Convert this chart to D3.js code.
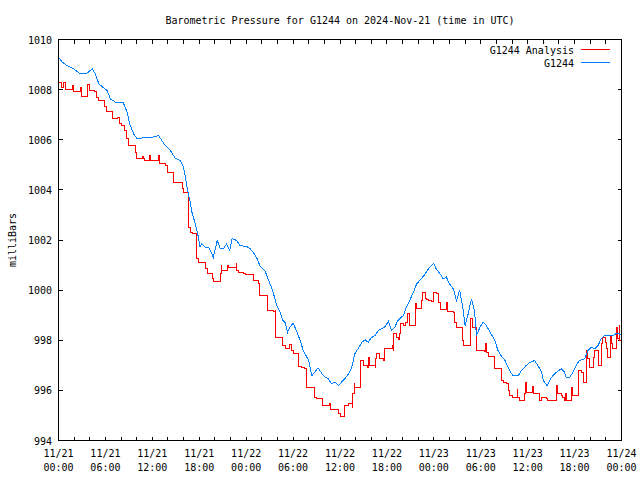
<!DOCTYPE html>
<html><head><meta charset="utf-8">
<script src="https://cdn.jsdelivr.net/npm/d3@7"></script>
<style>
html,body{margin:0;padding:0;background:#fff;}
svg{display:block;}
text{font-family:"DejaVu Sans Mono","Liberation Mono",monospace;font-size:10px;fill:#000;}
</style></head>
<body>
<script>
const title = "Barometric Pressure for G1244 on 2024-Nov-21 (time in UTC)";
const yLabel = "milliBars";
const seriesNames = ["G1244 Analysis", "G1244"];
const seriesColors = ["#ff0000", "#0080ff"];
const yTicks = [994, 996, 998, 1000, 1002, 1004, 1006, 1008, 1010];
const startTime = Date.UTC(2024, 10, 21, 0, 0);
const endTime = Date.UTC(2024, 10, 24, 0, 0);

// G1244 observations (hours since 11/21 00:00 UTC, mb)
const obsHours = [0,0.47,1.1,1.95,2.8,3.66,4.3,4.72,5.15,5.78,6.2,6.64,7.28,8.26,8.77,9.1,9.6,10.05,10.9,11.74,12.8,13.2,13.66,14.3,14.94,15.6,16.0,16.3,16.6,16.8,17.1,17.3,17.6,17.9,18.1,18.3,18.8,19.2,19.6,19.8,20.3,20.7,21.1,21.5,21.9,22.2,22.8,23.2,24.1,24.5,24.9,25.4,25.8,26.4,26.8,27.3,27.7,27.9,28.3,28.7,29.0,29.3,29.6,30.0,30.4,30.9,31.3,32.0,32.4,32.8,33.2,33.7,34.1,34.5,34.9,35.4,35.8,36.2,36.6,37.1,37.5,37.9,38.3,38.8,39.2,39.6,40.0,40.5,40.9,41.3,41.7,42.2,42.6,43.0,43.4,44.1,44.5,45.0,45.4,45.8,46.4,46.9,47.3,47.7,48.0,48.3,48.8,49.2,49.6,50.0,50.5,50.9,51.3,51.7,52.0,52.4,52.8,53.2,53.45,53.9,54.3,54.7,55.2,55.8,56.2,56.6,57.1,57.7,58.1,58.8,59.2,59.8,60.3,60.9,61.3,61.8,62.0,62.5,62.8,63.2,63.7,64.3,64.7,64.9,65.4,65.8,66.2,66.6,67.3,67.7,68.1,68.6,69.0,69.4,69.8,70.5,70.9,71.3,71.7,72.0];
const obsValues = [1009.3,1009.1,1008.96,1008.83,1008.63,1008.66,1008.83,1008.63,1008.23,1008.07,1007.97,1007.63,1007.5,1007.5,1007.1,1006.63,1006.24,1006.04,1006.08,1006.08,1006.17,1005.97,1005.77,1005.57,1005.26,1005.17,1004.9,1004.37,1003.84,1003.58,1003.05,1002.85,1002.5,1002.1,1001.71,1001.85,1001.71,1001.71,1001.45,1001.31,1001.98,1001.65,1001.65,1001.85,1001.58,1002.05,1001.98,1001.78,1001.74,1001.65,1001.51,1001.25,1000.94,1000.78,1000.45,1000.05,999.65,999.39,999.15,998.79,998.7,998.32,998.52,998.68,998.4,997.99,997.59,997.19,996.59,996.73,996.9,996.66,996.53,996.46,996.26,996.33,996.19,996.33,996.46,996.66,996.92,997.46,997.66,997.92,998.02,997.92,998.1,998.19,998.39,998.46,998.52,998.76,998.39,998.52,998.79,998.99,999.32,999.65,999.92,1000.25,1000.45,1000.65,1000.85,1000.98,1001.07,1000.85,1000.65,1000.45,1000.52,1000.25,1000.05,999.59,999.99,999.32,998.59,999.06,999.65,999.19,998.19,998.52,998.72,998.59,998.32,997.99,997.59,997.39,997.19,996.79,996.59,996.59,996.79,996.99,997.12,997.19,996.99,996.73,996.39,996.19,996.39,996.59,996.73,996.86,996.73,996.53,996.53,996.73,996.99,997.19,997.26,997.59,997.72,997.66,997.79,998.05,998.19,998.19,998.19,998.26,998.26,998.2];

// G1244 Analysis (hours since 11/21 00:00 UTC, mb), stepwise
const anaHours = [0,0.35,0.7,0.9,1.75,1.9,2.8,3.0,3.75,4.0,4.6,4.9,5.1,5.9,6.2,6.85,7.6,7.8,8.1,8.4,8.7,9.0,9.8,9.96,10.7,10.9,11.0,11.7,11.8,12.8,12.9,13.7,13.9,14.7,15.8,16.0,16.6,16.65,16.9,17.1,17.6,17.7,17.9,18.8,19.0,19.75,19.8,20.7,20.8,20.9,21.6,21.7,22.7,22.8,23.0,23.7,23.9,24.9,25.6,25.7,26.7,27.5,27.7,27.75,28.6,29.0,29.6,29.8,30.0,30.7,31.1,31.5,31.7,31.75,32.7,33.0,33.8,34.6,34.8,35.8,36.0,36.6,37.1,37.5,37.6,37.62,37.8,37.9,38.65,39.0,39.5,39.6,39.8,40.5,40.6,40.7,41.1,41.6,41.7,42.7,42.8,42.9,43.2,43.5,43.66,43.75,44.1,44.4,44.6,44.9,45.6,45.8,46.4,46.6,46.9,47.1,47.3,47.7,47.9,48.3,48.6,48.8,49.6,49.8,50.5,50.7,50.9,51.5,51.7,51.75,52.7,53.0,53.45,54.5,54.6,54.7,55.05,55.7,55.8,56.6,56.9,57.3,57.6,57.7,58.0,58.65,58.75,59.0,59.6,59.75,59.85,60.6,60.75,61.5,61.8,62.4,62.6,63.7,63.8,64.3,64.5,64.7,64.9,65.0,65.6,65.7,66.55,66.9,67.1,67.5,67.6,67.9,68.4,68.55,69.1,69.5,69.6,69.9,70.05,70.25,70.6,70.7,70.9,71.4,71.5,71.7,71.8,72.0];
const anaValues = [1008.3,1008.1,1008.3,1007.99,1008.17,1007.91,1008.1,1007.72,1008.2,1007.97,1007.94,1007.7,1007.57,1007.33,1007.13,1006.84,1006.88,1006.63,1006.57,1006.37,1006.04,1005.77,1005.5,1005.26,1005.33,1005.24,1005.17,1005.37,1005.17,1005.37,1005.04,1004.97,1004.71,1004.31,1004.04,1003.88,1003.71,1002.51,1002.31,1002.24,1001.85,1001.25,1001.11,1000.85,1000.68,1000.45,1000.34,1000.68,1000.98,1000.78,1000.98,1000.89,1001.05,1000.78,1000.72,1000.68,1000.62,1000.38,1000.28,999.79,999.19,999.15,999.19,998.1,997.79,997.66,997.83,997.59,997.46,996.95,996.9,996.86,996.33,996.13,995.73,995.66,995.4,995.46,995.22,995.06,994.96,995.4,995.46,995.49,995.33,995.86,996.26,996.13,997.19,996.99,996.9,997.32,996.99,996.93,997.26,997.46,997.26,997.19,997.66,997.79,997.59,998.26,998.1,998.02,998.26,998.66,998.59,998.72,999.06,998.59,999.46,999.26,999.59,999.92,999.65,999.62,999.59,999.56,999.92,999.86,999.52,999.22,999.49,999.16,999.12,998.72,998.52,998.49,997.99,997.79,998.86,998.5,997.59,997.56,997.86,997.52,997.35,997.12,996.86,996.39,996.33,996.29,996.0,995.8,995.7,996.02,995.73,995.6,995.86,996.33,995.93,996.15,995.86,995.6,995.73,995.66,995.6,996.19,995.86,995.8,995.73,995.6,995.86,995.6,996.13,995.8,996.79,996.73,996.33,997.59,997.26,996.93,997.32,997.59,996.99,997.86,998.12,997.92,997.66,997.32,998.19,997.86,997.66,998.52,998.06,998.59,997.99,997.92];

const W = 640, H = 480;
const plotL = 58.5, plotR = 621.5, plotT = 39.5, plotB = 440.5;

const svg = d3.select("body").append("svg").attr("width", W).attr("height", H);
svg.append("rect").attr("width", W).attr("height", H).attr("fill", "#fff");

const x = d3.scaleUtc().domain([new Date(startTime), new Date(endTime)]).range([plotL, plotR]);
const y = d3.scaleLinear().domain([994, 1010]).range([plotB, plotT]);
const toDate = h => new Date(startTime + h * 3600000);

const obs = obsHours.map((h, i) => ({t: toDate(h), v: obsValues[i]}));
const ana = anaHours.map((h, i) => ({t: toDate(h), v: anaValues[i]}));

// ticks
const tickLen = 4;
const xTickDates = d3.utcHour.every(2).range(new Date(startTime), new Date(endTime + 1));
const g = svg.append("g").attr("stroke", "#000").attr("stroke-width", 1).attr("shape-rendering", "crispEdges");
xTickDates.forEach(d => {
  const px = Math.round(x(d) - 0.5) + 0.5;
  g.append("line").attr("x1", px).attr("x2", px).attr("y1", plotB).attr("y2", plotB - tickLen);
  g.append("line").attr("x1", px).attr("x2", px).attr("y1", plotT).attr("y2", plotT + tickLen);
});
yTicks.forEach(v => {
  const py = Math.round(y(v) - 0.5) + 0.5;
  g.append("line").attr("x1", plotL).attr("x2", plotL + tickLen).attr("y1", py).attr("y2", py);
  g.append("line").attr("x1", plotR).attr("x2", plotR - tickLen).attr("y1", py).attr("y2", py);
});

// lines
const lineAna = d3.line().x(d => x(d.t)).y(d => y(d.v)).curve(d3.curveStepAfter);
const lineObs = d3.line().x(d => x(d.t)).y(d => y(d.v)).curve(d3.curveLinear);
svg.append("path").datum(ana).attr("d", lineAna).attr("fill", "none")
  .attr("stroke", seriesColors[0]).attr("stroke-width", 1).attr("shape-rendering", "crispEdges");
svg.append("path").datum(obs).attr("d", lineObs).attr("fill", "none")
  .attr("stroke", seriesColors[1]).attr("stroke-width", 1).attr("shape-rendering", "crispEdges");

// frame
svg.append("rect").attr("x", plotL).attr("y", plotT).attr("width", plotR - plotL).attr("height", plotB - plotT)
  .attr("fill", "none").attr("stroke", "#000").attr("stroke-width", 1).attr("shape-rendering", "crispEdges");

// y labels
yTicks.forEach(v => {
  svg.append("text").attr("x", 52).attr("y", y(v) + 4).attr("text-anchor", "end").text(v);
});
// x labels
const fmtDay = d3.utcFormat("%m/%d"), fmtTime = d3.utcFormat("%H:%M");
d3.utcHour.every(6).range(new Date(startTime), new Date(endTime + 1)).forEach(d => {
  const t = svg.append("text").attr("text-anchor", "middle");
  t.append("tspan").attr("x", x(d)).attr("y", 457).text(fmtDay(d));
  t.append("tspan").attr("x", x(d)).attr("y", 471).text(fmtTime(d));
});

// title
svg.append("text").attr("x", 340).attr("y", 24).attr("text-anchor", "middle").text(title);
// y axis label
svg.append("text").attr("transform", "translate(16,240) rotate(-90)").attr("text-anchor", "middle").text(yLabel);

// legend
seriesNames.forEach((name, i) => {
  const ly = 49.5 + i * 13;
  svg.append("text").attr("x", 574).attr("y", ly + 4).attr("text-anchor", "end").text(name);
  svg.append("line").attr("x1", 581).attr("x2", 610).attr("y1", ly).attr("y2", ly)
    .attr("stroke", seriesColors[i]).attr("stroke-width", 1).attr("shape-rendering", "crispEdges");
});
</script>
</body></html>
